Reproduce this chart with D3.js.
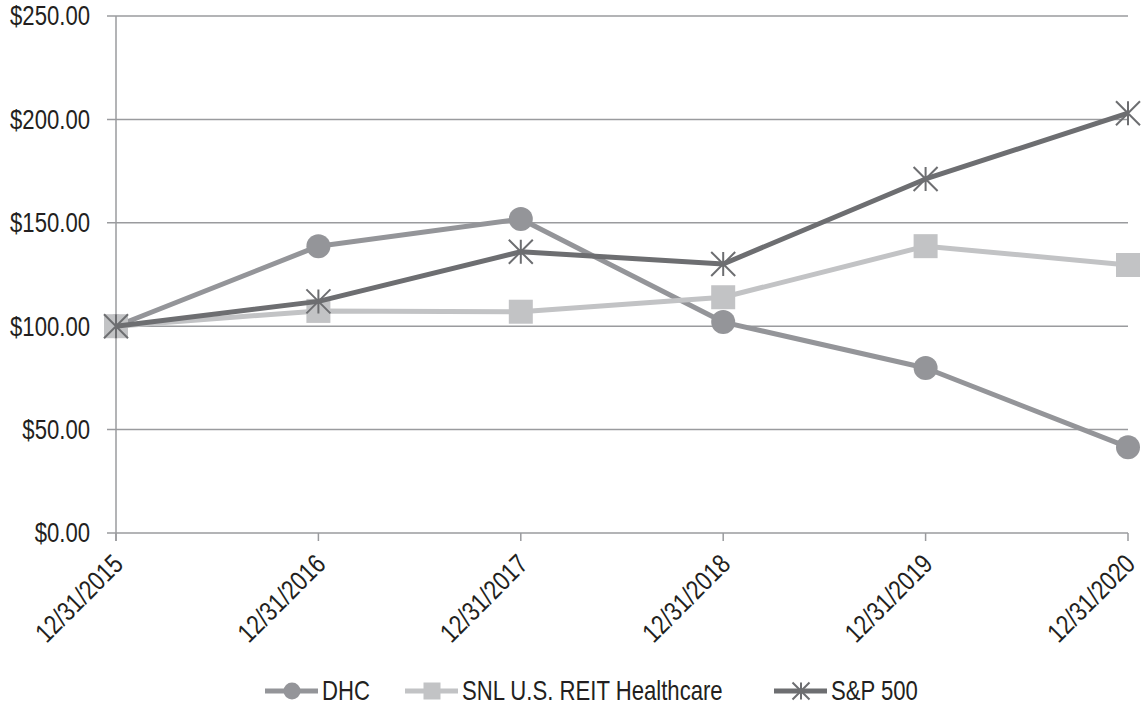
<!DOCTYPE html>
<html>
<head>
<meta charset="utf-8">
<script src="https://cdn.jsdelivr.net/npm/d3@7"></script>
<style>
  body { margin: 0; background: #fff; }
  text { font-family: "Liberation Sans", Arial, sans-serif; fill: #231f20; }
</style>
</head>
<body>
<div id="container"></div>
<script>
// data
const dates = ["12/31/2015", "12/31/2016", "12/31/2017", "12/31/2018", "12/31/2019", "12/31/2020"];
const dhc = [100, 138.7, 151.8, 102.0, 79.8, 41.5];
const snl = [100, 107.4, 107.0, 114.0, 138.7, 129.6];
const sp500 = [100, 112.0, 136.0, 130.1, 171.2, 203.0];
const yTicks = [0, 50, 100, 150, 200, 250];

const series = [
  { name: "DHC", values: dhc, color: "#949599", marker: "circle" },
  { name: "SNL U.S. REIT Healthcare", values: snl, color: "#c2c3c5", marker: "square" },
  { name: "S&P 500", values: sp500, color: "#6d6e71", marker: "star" }
];

const width = 1144, height = 708;
const margin = { top: 16, right: 16, bottom: 175, left: 116 };
const narrow = 0.82; // squeeze to look like a narrow face

const svg = d3.select("#container").append("svg")
  .attr("width", width).attr("height", height);

const x = d3.scalePoint().domain(dates).range([margin.left, width - margin.right]);
const y = d3.scaleLinear().domain([0, 250]).range([height - margin.bottom, margin.top]);

// gridlines + y labels
svg.append("g").selectAll("line").data(yTicks).join("line")
  .attr("x1", margin.left - 9).attr("x2", width - margin.right)
  .attr("y1", d => y(d)).attr("y2", d => y(d))
  .attr("stroke", "#9a9b9e").attr("stroke-width", 1.5);

svg.append("g").selectAll("text").data(yTicks).join("text")
  .attr("transform", d => `translate(${margin.left - 26},${y(d)}) scale(${narrow},1)`)
  .attr("dy", "0.35em").attr("text-anchor", "end")
  .attr("font-size", 27)
  .text(d => "$" + d.toFixed(2));

// y axis line
svg.append("line")
  .attr("x1", margin.left).attr("x2", margin.left)
  .attr("y1", y(250)).attr("y2", y(0) + 8)
  .attr("stroke", "#9a9b9e").attr("stroke-width", 1.5);

// x ticks
svg.append("g").selectAll("line").data(dates).join("line")
  .attr("x1", d => x(d)).attr("x2", d => x(d))
  .attr("y1", y(0)).attr("y2", y(0) + 8)
  .attr("stroke", "#9a9b9e").attr("stroke-width", 1.5);

svg.append("g").selectAll("text").data(dates).join("text")
  .attr("transform", d => `translate(${x(d) + 2},${y(0) + 26}) rotate(-45) scale(${narrow},1)`)
  .attr("text-anchor", "end")
  .attr("dy", "0.35em")
  .attr("font-size", 27)
  .text(d => d);

// marker drawing
function drawMarker(g, type, color, cx, cy, s) {
  if (type === "circle") {
    g.append("circle").attr("cx", cx).attr("cy", cy).attr("r", s / 2).attr("fill", color);
  } else if (type === "square") {
    g.append("rect").attr("x", cx - s / 2).attr("y", cy - s / 2)
      .attr("width", s).attr("height", s).attr("fill", color);
  } else {
    const h = s / 2;
    const p = `M${cx - h},${cy - h}L${cx + h},${cy + h}M${cx - h},${cy + h}L${cx + h},${cy - h}M${cx},${cy - h}L${cx},${cy + h}`;
    g.append("path").attr("d", p).attr("stroke", color).attr("stroke-width", 2).attr("fill", "none");
  }
}

const line = d3.line().x((d, i) => x(dates[i])).y(d => y(d));

series.forEach(s => {
  const g = svg.append("g");
  g.append("path").attr("d", line(s.values))
    .attr("fill", "none").attr("stroke", s.color).attr("stroke-width", 5)
    .attr("stroke-linejoin", "round");
  s.values.forEach((v, i) => drawMarker(g, s.marker, s.color, x(dates[i]), y(v), 24));
});

// legend
const legendX = [265, 405, 774];
const legendY = 691;
series.forEach((s, i) => {
  const g = svg.append("g");
  const lx = legendX[i];
  g.append("line").attr("x1", lx).attr("x2", lx + 53)
    .attr("y1", legendY).attr("y2", legendY)
    .attr("stroke", s.color).attr("stroke-width", 5);
  drawMarker(g, s.marker, s.color, lx + 27, legendY, 17);
  g.append("text")
    .attr("transform", `translate(${lx + 57},${legendY}) scale(${narrow},1)`)
    .attr("dy", "0.35em").attr("font-size", 27).text(s.name);
});
</script>
</body>
</html>
